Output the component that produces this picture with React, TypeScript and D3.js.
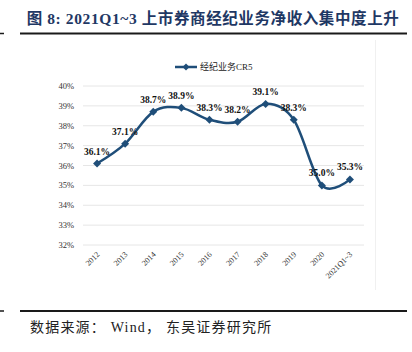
import * as d3 from "d3";

const categories = ["2012", "2013", "2014", "2015", "2016", "2017", "2018", "2019", "2020", "2021Q1~3"];
const cr5 = [36.1, 37.1, 38.7, 38.9, 38.3, 38.2, 39.1, 38.3, 35.0, 35.3];
const yTicks = [32, 33, 34, 35, 36, 37, 38, 39, 40];

const navy = "#1F4E79";
const serif = "'Times New Roman', 'Liberation Serif', 'Noto Sans CJK SC', serif";

export default function App() {
  const width = 412;
  const height = 352;
  const left = 83;
  const right = 364;
  const top = 86;
  const bottom = 245;

  const x = d3.scaleBand<string>().domain(categories).range([left, right]);
  const y = d3.scaleLinear().domain([32, 40]).range([bottom, top]);
  const cx = (c: string) => (x(c) ?? 0) + x.bandwidth() / 2;

  const pts: [number, number][] = categories.map((c, i) => [cx(c), y(cr5[i])]);
  const line = d3.line().curve(d3.curveCardinal.tension(0))(pts) ?? "";

  const diamond = (px: number, py: number, r: number) =>
    `M${px},${py - r}L${px + r},${py}L${px},${py + r}L${px - r},${py}Z`;

  return (
    <svg
      width={width}
      height={height}
      style={{ position: "absolute", left: 0, top: 0, background: "#fff" }}
    >
      {/* title */}
      <text
        x={213}
        y={24}
        textAnchor="middle"
        fontSize={15.5}
        fontWeight="bold"
        fill="#1F3864"
        fontFamily={serif}
        letterSpacing={0.6}
      >
        图 8: 2021Q1~3 上市券商经纪业务净收入集中度上升
      </text>
      <line x1={20} x2={407} y1={33.5} y2={33.5} stroke="#1a1a1a" strokeWidth={2} />
      <line x1={0} x2={4} y1={33.5} y2={33.5} stroke="#1a1a1a" strokeWidth={1.5} />

      {/* legend */}
      <line x1={175} x2={197} y1={67} y2={67} stroke={navy} strokeWidth={2.5} />
      <path d={diamond(186, 67, 3.5)} fill={navy} />
      <text x={200} y={70} fontSize={9} fill="#222" fontFamily={serif}>
        经纪业务CR5
      </text>

      {/* grid + y labels */}
      {yTicks.map((t) => (
        <g key={t}>
          <line x1={left} x2={right} y1={y(t)} y2={y(t)} stroke="#e6e6e6" strokeWidth={1} />
          <text
            x={74}
            y={y(t) + 3}
            textAnchor="end"
            fontSize={8.5}
            fill="#333"
            fontFamily={serif}
          >
            {t}%
          </text>
        </g>
      ))}
      <line x1={375.5} x2={375.5} y1={40} y2={290} stroke="#f0f0f0" strokeWidth={1} />

      {/* x labels */}
      {categories.map((c) => (
        <text
          key={c}
          transform={`translate(${cx(c) + 3},${bottom + 10}) rotate(-45)`}
          textAnchor="end"
          fontSize={8}
          fill="#333"
          fontFamily={serif}
        >
          {c}
        </text>
      ))}

      {/* series */}
      <path d={line} fill="none" stroke={navy} strokeWidth={2.5} />
      {pts.map(([px, py], i) => (
        <path key={i} d={diamond(px, py, 4)} fill={navy} />
      ))}
      {pts.map(([px, py], i) => (
        <text
          key={"l" + i}
          x={px}
          y={py - 9}
          textAnchor="middle"
          fontSize={9.5}
          fontWeight="bold"
          fill="#111"
          fontFamily={serif}
        >
          {cr5[i].toFixed(1)}%
        </text>
      ))}

      {/* footer */}
      <line x1={20} x2={407} y1={311} y2={311} stroke="#1a1a1a" strokeWidth={2} />
      <line x1={0} x2={4} y1={311} y2={311} stroke="#1a1a1a" strokeWidth={1.5} />
      <text x={30} y={332} fontSize={14} fill="#222" fontFamily={serif} letterSpacing={1.2}>
        数据来源： Wind， 东吴证券研究所
      </text>
    </svg>
  );
}
